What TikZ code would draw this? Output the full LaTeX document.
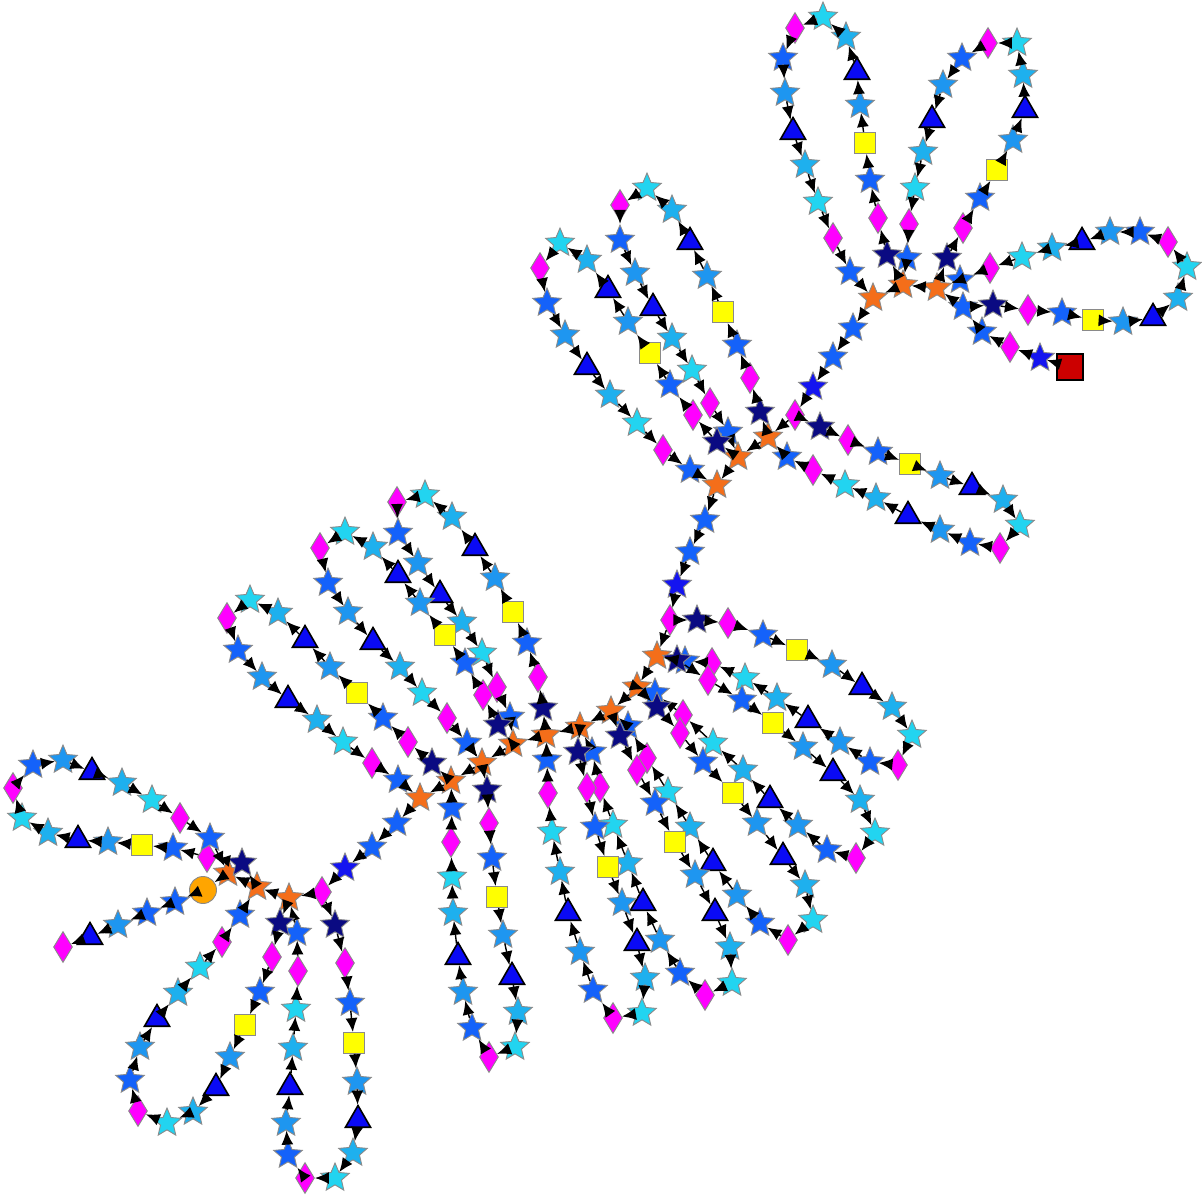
\documentclass[tikz,border=0pt]{standalone}
\usepackage{xcolor}
\usepackage{tikz}
\usetikzlibrary{shapes.geometric, arrows.meta}

\definecolor{navyS}{HTML}{0A0A82}
\definecolor{royalS}{HTML}{1462FA}
\definecolor{pureS}{HTML}{1414F0}
\definecolor{dodgerS}{HTML}{1E96F0}
\definecolor{skyS}{HTML}{1EB0EE}
\definecolor{cyanS}{HTML}{22D4F0}
\definecolor{hubS}{HTML}{F46E1A}
\definecolor{dotS}{HTML}{FFA500}
\definecolor{boxS}{HTML}{CC0000}
\definecolor{rimS}{HTML}{8A8A8A}
\definecolor{diaS}{HTML}{FF00FF}
\definecolor{triS}{HTML}{0A0AF5}
\definecolor{sqS}{HTML}{FFFF00}

\newcommand{\petal}[4]{%
  \foreach \x/\y [count=\k] in {#2}
    \node[kind\k] (#1-\k) at (\x,\y) {};
  \foreach \k [evaluate=\k as \j using int(\k+1)] in {1,...,15}
    \draw[arr] (#1-\k) -- (#1-\j);
  \draw[arr] (#3) -- (#1-1);
  \draw[arr] (#1-16) -- (#4);
}

\begin{document}
\begin{tikzpicture}[x=1pt, y=-1pt,
  arr/.style={-{Latex[length=14pt,width=12pt]}, line width=1.4pt, black},
  starbase/.style={star, star points=5, star point ratio=2.2, minimum size=30pt,
    inner sep=0pt, draw=rimS, line width=0.9pt},
  navystar/.style={starbase, fill=navyS},
  royalstar/.style={starbase, fill=royalS},
  purestar/.style={starbase, fill=pureS},
  dodgerstar/.style={starbase, fill=dodgerS},
  skystar/.style={starbase, fill=skyS},
  cyanstar/.style={starbase, fill=cyanS},
  hub/.style={starbase, fill=hubS},
  dia/.style={diamond, minimum width=19pt, minimum height=31pt, inner sep=0pt,
    fill=diaS, draw=rimS, line width=0.9pt},
  tri/.style={regular polygon, regular polygon sides=3, minimum size=29pt,
    inner sep=0pt, fill=triS, draw=black, line width=1.6pt},
  sq/.style={rectangle, minimum size=21pt, inner sep=0pt, fill=sqS,
    draw=rimS, line width=0.9pt},
  startdot/.style={circle, minimum size=27pt, inner sep=0pt, fill=dotS,
    draw=rimS, line width=0.9pt},
  endbox/.style={rectangle, minimum size=26pt, inner sep=0pt, fill=boxS,
    draw=black, line width=2.5pt},
  kind1/.style={navystar}, kind2/.style={dia}, kind3/.style={royalstar},
  kind4/.style={sq}, kind5/.style={dodgerstar}, kind6/.style={tri},
  kind7/.style={skystar}, kind8/.style={cyanstar}, kind9/.style={dia},
  kind10/.style={royalstar}, kind11/.style={dodgerstar}, kind12/.style={tri},
  kind13/.style={skystar}, kind14/.style={cyanstar}, kind15/.style={dia},
  kind16/.style={royalstar}]

  \useasboundingbox (0,0) rectangle (1202,1194);

  \node[hub] (a1) at (228,873) {};
  \node[hub] (a2) at (257,887) {};
  \node[hub] (a3) at (289,898) {};
  \foreach \x/\y [count=\k] in {420/798, 451/781, 482/763, 513/744, 546/735,
      580/727, 611/711, 637/687, 657/656}
    \node[hub] (b\k) at (\x,\y) {};
  \node[hub] (c1) at (717,485) {};
  \node[hub] (c2) at (738,457) {};
  \node[hub] (c3) at (768,437) {};
  \node[hub] (d1) at (873,298) {};
  \node[hub] (d2) at (903,285) {};
  \node[hub] (d3) at (937,288) {};

  \node[endbox] (rs) at (1070,367) {};
  \node[purestar] (dt1) at (1040,358) {};
  \node[dia] (dt2) at (1010,347) {};
  \node[royalstar] (dt3) at (982,332) {};
  \node[royalstar] (xd) at (963,307) {};

  \node[royalstar] (dc1) at (853,328) {};
  \node[royalstar] (dc2) at (833,357) {};
  \node[purestar] (dc3) at (813,387) {};
  \node[dia] (xc) at (795,415) {};

  \node[royalstar] (cb1) at (705,520) {};
  \node[royalstar] (cb2) at (690,552) {};
  \node[purestar] (cb3) at (677,585) {};
  \node[dia] (xb) at (670,620) {};

  \node[royalstar] (ba1) at (397,823) {};
  \node[royalstar] (ba2) at (372,847) {};
  \node[purestar] (ba3) at (345,868) {};
  \node[dia] (xa) at (322,892) {};

  \node[startdot] (dot) at (203,890) {};
  \node[royalstar] (ta1) at (175,902) {};
  \node[royalstar] (ta2) at (147,913) {};
  \node[dodgerstar] (ta3) at (118,925) {};
  \node[tri] (ta4) at (90,937) {};
  \node[dia] (ta5) at (63,947) {};

  \petal{pD3}{993/305, 1028/310, 1062/313, 1093/320, 1123/322, 1153/318,
    1178/298, 1187/267, 1168/242, 1140/232, 1110/232, 1082/242, 1052/248,
    1022/257, 990/268, 960/280}{xd}{d3}
  \petal{pD2}{947/258, 963/228, 980/198, 997/170, 1013/140, 1025/110, 1023/75,
    1017/43, 988/43, 962/58, 943/85, 932/120, 923/152, 915/188, 909/224,
    907/258}{d3}{d2}
  \petal{pD1}{887/255, 878/218, 870/180, 865/143, 860/105, 857/72, 846/37,
    823/17, 795/28, 783/58, 785/93, 793/132, 805/165, 818/202, 833/238,
    850/272}{d2}{d1}
  \petal{pC3}{820/427, 848/440, 878/452, 910/464, 940/476, 972/487, 1003/500,
    1020/525, 1000/548, 970/543, 940/530, 908/516, 876/498, 845/485, 813/470,
    787/457}{xc}{c3}
  \petal{pC2}{760/412, 750/378, 737/345, 723/312, 707/276, 690/242, 672/210,
    647/188, 620/205, 620/240, 635/273, 653/308, 672/338, 692/370, 710/403,
    728/432}{c3}{c2}
  \petal{pC1}{717/442, 693/415, 670/385, 650/353, 628/322, 608/290, 587/260,
    560/243, 540/268, 547/303, 565/335, 587/367, 610/395, 637/423, 663/450,
    690/470}{c2}{c1}
  \petal{pB9}{697/620, 728/623, 763/635, 797/650, 832/665, 862/687, 892/707,
    912/735, 898/765, 870/762, 840/742, 808/720, 777/698, 745/678, 712/663,
    685/661}{xb}{b9}
  \petal{pB8}{677/660, 708/680, 742/700, 773/723, 803/747, 833/773, 860/800,
    875/833, 856/858, 827/850, 798/825, 770/800, 743/770, 713/743, 683/715,
    655/693}{b9}{b8}
  \petal{pB7}{657/707, 680/733, 703/762, 733/793, 757/823, 783/857, 805/885,
    813/920, 788/940, 760/923, 737/895, 713/863, 690/827, 668/792, 647/758,
    628/726}{b8}{b7}
  \petal{pB6}{620/736, 637/770, 655/803, 675/842, 695/875, 715/913, 730/947,
    732/983, 705/995, 680/973, 660/940, 643/903, 628/863, 613/825, 600/787,
    592/752}{b7}{b6}
  \petal{pB5}{578/752, 587/788, 595/827, 608/867, 622/903, 637/943, 645/978,
    642/1013, 613/1018, 593/990, 580/952, 568/913, 560/872, 552/832, 548/793,
    547/760}{b6}{b5}
  \petal{pB3}{543/708, 538/677, 527/643, 513/612, 495/578, 475/548, 452/517,
    425/495, 397/502, 398/533, 418/563, 440/595, 462/622, 482/653, 497/687,
    510/717}{b5}{b4}
  \petal{pB2}{498/725, 483/695, 465/663, 445/635, 420/603, 398/575, 373/547,
    345/532, 320/548, 328/583, 348/612, 373/642, 400/667, 422/693, 447/718,
    467/743}{b4}{b3}
  \petal{pB4}{487/790, 489/823, 492/858, 497/897, 503/935, 512/977, 518/1012,
    515/1047, 489/1057, 472/1028, 463/992, 458/957, 453/913, 452/877, 451/842,
    452/808}{b3}{b2}
  \petal{pB1}{432/763, 408/742, 383/718, 357/693, 330/667, 305/640, 278/613,
    250/600, 227/618, 238/650, 262/677, 288/700, 317/720, 343/742, 372/763,
    398/780}{b2}{b1}
  \petal{pA4}{335/925, 345/963, 350/1003, 354/1043, 357/1082, 358/1120,
    353/1153, 335/1178, 305/1178, 288/1155, 286/1123, 290/1087, 293/1048,
    296/1009, 298/971, 297/933}{xa}{a3}
  \petal{pA3}{280/923, 272/957, 260/992, 245/1025, 230/1057, 216/1088,
    193/1112, 167/1123, 138/1111, 130/1080, 140/1047, 157/1019, 178/993,
    200/967, 222/942, 240/915}{a3}{a2}
  \petal{pA1}{242/863, 207/857, 173/848, 142/845, 108/842, 78/840, 48/833,
    22/818, 13/788, 33/765, 63/760, 92/772, 122/783, 152/800, 180/818,
    210/838}{a2}{a1}

  \draw[arr] (rs) -- (dt1);
  \draw[arr] (dt1) -- (dt2);
  \draw[arr] (dt2) -- (dt3);
  \draw[arr] (dt3) -- (xd);
  \draw[arr] (xd) -- (d3);
  \draw[arr] (d3) -- (d2);
  \draw[arr] (d2) -- (d1);
  \draw[arr] (d1) -- (dc1);
  \draw[arr] (dc1) -- (dc2);
  \draw[arr] (dc2) -- (dc3);
  \draw[arr] (dc3) -- (xc);
  \draw[arr] (xc) -- (c3);
  \draw[arr] (c3) -- (c2);
  \draw[arr] (c2) -- (c1);
  \draw[arr] (c1) -- (cb1);
  \draw[arr] (cb1) -- (cb2);
  \draw[arr] (cb2) -- (cb3);
  \draw[arr] (cb3) -- (xb);
  \draw[arr] (xb) -- (b9);
  \foreach \k [evaluate=\k as \j using int(\k-1)] in {9,...,2}
    \draw[arr] (b\k) -- (b\j);
  \draw[arr] (b1) -- (ba1);
  \draw[arr] (ba1) -- (ba2);
  \draw[arr] (ba2) -- (ba3);
  \draw[arr] (ba3) -- (xa);
  \draw[arr] (xa) -- (a3);
  \draw[arr] (a3) -- (a2);
  \draw[arr] (a2) -- (a1);
  \draw[arr] (a1) -- (dot);
  \draw[arr] (dot) -- (ta1);
  \draw[arr] (ta1) -- (ta2);
  \draw[arr] (ta2) -- (ta3);
  \draw[arr] (ta3) -- (ta4);
  \draw[arr] (ta4) -- (ta5);
\end{tikzpicture}
\end{document}
